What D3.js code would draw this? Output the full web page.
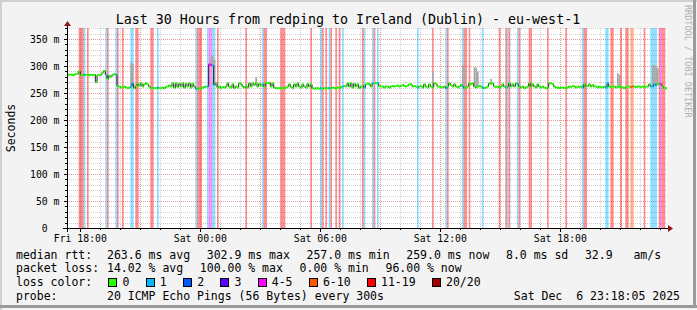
<!DOCTYPE html>
<html lang="en">
<head>
<meta charset="UTF-8">
<title>smokeping</title>
<script src="https://cdn.jsdelivr.net/npm/d3@7"></script>
<style>
  body { margin: 0; background: #f3f3f3; }
  text { font-family: "DejaVu Sans Mono", monospace; white-space: pre; }
</style>
</head>
<body>
<div class="wrap"></div>
<script>
  // ---- data ----
  var startTime = new Date(2025, 11, 5, 17, 20);   // Fri 17:20, 5 min steps
  var stepMinutes = 5;
  var hours = 30;

  // median rtt per 5-minute step, in ms (12 per hour, 30 hours)
  var median = [
    284,284,284,283,284,285,286,290,283,283,284,284,
    284,283,284,283,284,270,283,283,284,288,291,284,
    276,282,280,284,285,284,263,262,260,261,262,260,
    259,260,262,268,259,263,267,264,268,262,266,268,
    266,262,259,259,259,259,260,259,259,260,259,261,
    262,264,262,268,260,268,261,267,262,268,260,267,
    262,268,260,267,262,258,257,259,258,260,261,262,
    262,303,302,301,265,268,260,262,259,261,260,262,
    268,262,260,266,259,262,260,268,267,262,260,263,
    260,268,262,268,265,268,262,267,264,266,262,268,
    268,269,262,268,260,259,259,259,259,259,259,260,
    262,266,261,259,266,262,268,262,260,266,262,260,
    267,262,266,259,258,259,259,258,259,258,259,259,
    259,259,259,260,259,259,260,259,261,262,263,262,
    268,262,268,260,267,262,266,259,262,264,260,266,
    268,266,262,268,268,268,268,263,262,262,260,262,
    262,260,262,263,262,263,264,262,263,265,263,262,
    264,266,266,262,263,262,260,262,263,260,266,262,
    260,266,262,260,268,267,262,262,261,260,262,259,
    262,268,265,262,266,262,260,262,265,262,259,260,
    262,268,266,268,262,260,262,263,262,260,259,260,
    262,268,267,268,262,261,262,260,262,266,262,260,
    262,268,262,266,262,268,266,262,260,262,259,260,
    262,268,262,266,262,260,266,262,260,262,260,259,
    260,268,268,266,262,260,260,259,260,260,259,260,
    260,262,261,263,262,260,262,261,262,260,266,262,
    263,266,262,265,262,262,260,262,261,260,262,260,
    268,262,261,262,262,260,262,261,262,260,259,261,
    262,262,261,262,262,261,262,262,261,262,261,262,
    262,266,262,262,266,264,266,267,266,262,259,259
  ];

  // steps with lost pings: [step, pings lost of 20]
  var lossSteps = [
    [7,18],[8,18],[9,18],[10,1],[12,18],[23,1],[24,18],[29,1],[30,18],[33,18],
    [38,1],[39,1],[41,18],[42,18],[50,18],[51,18],[54,1],[77,1],[78,18],[79,18],
    [80,18],[84,1],[85,5],[86,5],[87,1],[88,1],[90,18],[107,18],[117,1],[118,18],
    [119,18],[128,18],[129,18],[130,18],[146,18],[152,1],[153,18],[155,18],[157,1],
    [158,18],[161,18],[163,18],[165,1],[177,18],[178,1],[183,1],[184,18],[186,1],
    [210,1],[219,18],[227,1],[228,18],[237,1],[238,18],[239,18],[241,18],[249,1],
    [259,18],[263,18],[264,1],[265,18],[270,1],[271,18],[277,18],[278,18],[288,18],
    [299,18],[309,1],[310,18],[311,18],[323,1],[324,1],[326,18],[327,18],[332,18],
    [335,18],[336,18],[338,8],[339,8],[346,18],[350,1],[351,1],[352,1],[353,1],
    [355,18],[356,5],[357,18],[358,18]
  ];

  // highest ping of the step where the smoke rises visibly above the median, ms
  var smokeTop = [
    [38,306],[39,304],[86,318],[87,318],[88,312],[113,279],[219,289],[237,302],
    [238,296],[244,298],[245,297],[246,290],[254,276],[330,287],[331,284],
    [351,302],[352,302],[353,300],[354,296]
  ];

  var lossLabels = ["0", "1", "2", "3", "4-5", "6-10", "11-19", "20/20"];
  var lossUpper  = [0, 1, 2, 3, 5, 10, 19, 20];
  var lossColors = ["#26ff00", "#00b8ff", "#0059ff", "#5e00ff", "#ff00ff", "#ff5500", "#ff0000", "#a10000"];

  var yTicks = d3.range(0, 371, 10);
  var title = "Last 30 Hours from redping to Ireland (Dublin) - eu-west-1";
  var rttStats  = ["263.6 ms avg", "302.9 ms max", "257.0 ms min", "259.0 ms now", "8.0 ms sd", "32.9   am/s"];
  var lossStats = ["14.02 % avg", "100.00 % max", "0.00 % min", "96.00 % now"];
  var probeText = "20 ICMP Echo Pings (56 Bytes) every 300s";
  var stampText = "Sat Dec  6 23:18:05 2025";

  // ---- layout ----
  var W = 697, H = 310;
  var pLeft = 67, pRight = 667, pTop = 28, pBottom = 228;
  var cw = 6.92;  // char width of legend font

  var endTime = d3.timeHour.offset(startTime, hours);
  var x = d3.scaleTime().domain([startTime, endTime]).range([pLeft, pRight]);
  var y = d3.scaleLinear().domain([0, 370.4]).range([pBottom, pTop]);

  function stepTime(i) { return d3.timeMinute.offset(startTime, i * stepMinutes); }
  function bucket(l) { for (var k = 0; k < lossUpper.length; k++) if (l <= lossUpper[k]) return k; return 7; }
  // heavy-loss steps: the red background swallows the line colour, it reads as green
  function lineColor(l) { var b = bucket(l); return b <= 5 ? lossColors[b] : lossColors[0]; }

  var loss = median.map(function() { return 0; });
  lossSteps.forEach(function(d) { loss[d[0]] = d[1]; });

  var svg = d3.select(".wrap").append("svg")
      .attr("width", W).attr("height", H);

  // background + frame
  svg.append("rect").attr("width", W).attr("height", H).attr("fill", "#f3f3f3");
  svg.append("line").attr("x1", 0).attr("x2", W).attr("y1", 1).attr("y2", 1).attr("stroke", "#d0d0d0").attr("stroke-width", 2);
  svg.append("line").attr("x1", 1).attr("x2", 1).attr("y1", 0).attr("y2", H).attr("stroke", "#d0d0d0").attr("stroke-width", 2);
  svg.append("line").attr("x1", 0).attr("x2", W).attr("y1", H - 3.5).attr("y2", H - 3.5).attr("stroke", "#9a9a9a").attr("stroke-width", 3);
  svg.append("line").attr("x1", W - 2.5).attr("x2", W - 2.5).attr("y1", 0).attr("y2", H - 2).attr("stroke", "#9a9a9a").attr("stroke-width", 3);

  // canvas
  svg.append("rect").attr("x", pLeft).attr("y", pTop).attr("width", pRight - pLeft).attr("height", pBottom - pTop).attr("fill", "#fff");

  // grid
  var hourTicks = d3.timeHour.every(1).range(startTime, endTime);
  var grid = svg.append("g");
  yTicks.forEach(function(v) {
    if (v === 0) return;
    var yy = Math.round(y(v)) + 0.5;
    grid.append("line").attr("x1", pLeft).attr("x2", pRight).attr("y1", yy).attr("y2", yy)
        .attr("stroke", v % 50 === 0 ? "#e89a9a" : "#cfcfcf").attr("stroke-dasharray", "1,1");
  });
  hourTicks.forEach(function(t) {
    var xx = Math.round(x(t)) + 0.5;
    grid.append("line").attr("x1", xx).attr("x2", xx).attr("y1", pTop).attr("y2", pBottom)
        .attr("stroke", t.getHours() % 3 === 0 ? "#e89a9a" : "#cfcfcf").attr("stroke-dasharray", "1,1");
  });

  // loss background bars
  svg.append("g").selectAll("rect").data(lossSteps).enter().append("rect")
      .attr("x", function(d) { return x(stepTime(d[0])); })
      .attr("width", function(d) { return x(stepTime(d[0] + 1)) - x(stepTime(d[0])); })
      .attr("y", pTop).attr("height", pBottom - pTop)
      .attr("fill", function(d) { return lossColors[bucket(d[1])]; })
      .attr("fill-opacity", 0.45);

  // smoke
  svg.append("g").selectAll("rect").data(smokeTop).enter().append("rect")
      .attr("x", function(d) { return x(stepTime(d[0])); })
      .attr("width", function(d) { return x(stepTime(d[0] + 1)) - x(stepTime(d[0])); })
      .attr("y", function(d) { return y(d[1]); })
      .attr("height", function(d) { return y(median[d[0]]) - y(d[1]); })
      .attr("fill", "#a8a8a8");

  // median: black connectors then coloured steps
  var stepLine = d3.line()
      .x(function(d) { return x(d.t); })
      .y(function(d) { return y(d.v); })
      .curve(d3.curveStepAfter);
  var pts = median.map(function(v, i) { return { t: stepTime(i), v: v }; });
  pts.push({ t: endTime, v: median[median.length - 1] });
  svg.append("path").datum(pts).attr("d", stepLine)
      .attr("fill", "none").attr("stroke", "#202020").attr("stroke-width", 1);

  svg.append("g").selectAll("line").data(median).enter().append("line")
      .attr("x1", function(d, i) { return x(stepTime(i)); })
      .attr("x2", function(d, i) { return x(stepTime(i + 1)); })
      .attr("y1", function(d) { return y(d); })
      .attr("y2", function(d) { return y(d); })
      .attr("stroke", function(d, i) { return lineColor(loss[i]); })
      .attr("stroke-width", 2);

  // axes
  var axisCol = "#000", arrowCol = "#8b1a1a";
  svg.append("line").attr("x1", pLeft - 4).attr("x2", pRight + 2).attr("y1", pBottom + 0.5).attr("y2", pBottom + 0.5).attr("stroke", axisCol);
  svg.append("line").attr("x1", pLeft + 0.5).attr("x2", pLeft + 0.5).attr("y1", pBottom + 4).attr("y2", pTop - 2).attr("stroke", axisCol);
  svg.append("path").attr("d", "M" + (pRight + 1) + "," + (pBottom - 3) + "L" + (pRight + 6) + "," + (pBottom + 0.5) + "L" + (pRight + 1) + "," + (pBottom + 4) + "Z").attr("fill", arrowCol);
  svg.append("path").attr("d", "M" + (pLeft - 3) + "," + (pTop - 2) + "L" + (pLeft + 0.5) + "," + (pTop - 7) + "L" + (pLeft + 4) + "," + (pTop - 2) + "Z").attr("fill", arrowCol);

  // y ticks + labels
  yTicks.forEach(function(v) {
    var yy = Math.round(y(v)) + 0.5;
    svg.append("line").attr("x1", pLeft - (v % 50 === 0 ? 3 : 2)).attr("x2", pLeft).attr("y1", yy).attr("y2", yy).attr("stroke", axisCol);
    if (v % 50 === 0) {
      svg.append("text").attr("x", v === 0 ? 59.5 - 2 * 5.9 : 59.5).attr("y", y(v) + 3.6)
          .attr("text-anchor", "end").attr("font-size", "9.8px")
          .text(v === 0 ? "0" : v + " m");
    }
  });

  // x ticks + labels
  var fmt = d3.timeFormat("%a %H:%M");
  hourTicks.forEach(function(t) {
    var xx = Math.round(x(t)) + 0.5;
    var major = t.getHours() % 6 === 0;
    svg.append("line").attr("x1", xx).attr("x2", xx).attr("y1", pBottom).attr("y2", pBottom + (major ? 4 : 2)).attr("stroke", axisCol);
    if (major) {
      svg.append("text").attr("x", x(t)).attr("y", 242).attr("text-anchor", "middle")
          .attr("font-size", "9.8px").text(fmt(t));
    }
  });

  // title, y label, watermark
  svg.append("text").attr("x", 348).attr("y", 24).attr("text-anchor", "middle")
      .attr("font-size", "13.3px").text(title);
  svg.append("text").attr("transform", "translate(14.5," + ((pTop + pBottom) / 2) + ") rotate(-90)")
      .attr("text-anchor", "middle").attr("font-size", "11.5px").text("Seconds");
  svg.append("text").attr("transform", "translate(684.5,5) rotate(90)")
      .attr("font-size", "8.5px").attr("fill", "#b0b0b0").text("RRDTOOL / TOBI OETIKER");

  // legend
  var lg = svg.append("g").attr("font-size", "11.5px");
  function row(label, items, yb) {
    lg.append("text").attr("x", 16).attr("y", yb).text(label);
    var xx = 107;
    items.forEach(function(s) {
      lg.append("text").attr("x", xx).attr("y", yb).text(s);
      xx += s.length * cw + 16.7;
    });
  }
  row("median rtt:", rttStats, 258.5);
  row("packet loss:", lossStats, 272.2);

  lg.append("text").attr("x", 16).attr("y", 285.9).text("loss color:");
  var bx = 108.3;
  lossLabels.forEach(function(s, k) {
    lg.append("rect").attr("x", Math.round(bx) + 0.5).attr("y", 278.5).attr("width", 8).attr("height", 8)
        .attr("fill", lossColors[k]).attr("stroke", "#000");
    lg.append("text").attr("x", bx + 14.2).attr("y", 285.9).text(s);
    bx += 14.2 + s.length * cw + 16.2;
  });

  lg.append("text").attr("x", 16).attr("y", 299.6).text("probe:");
  lg.append("text").attr("x", 107).attr("y", 299.6).text(probeText);
  lg.append("text").attr("x", 680).attr("y", 299.6).attr("text-anchor", "end").text(stampText);
</script>
</body>
</html>
